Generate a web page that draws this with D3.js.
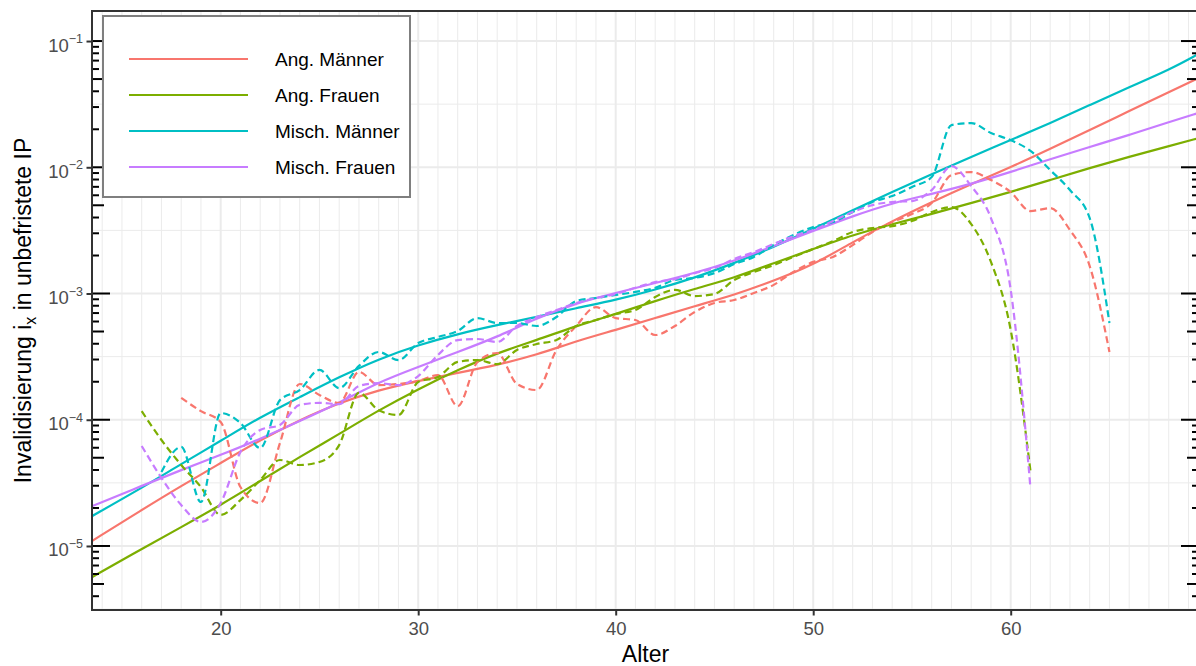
<!DOCTYPE html>
<html>
<head>
<meta charset="utf-8">
<script src="https://cdn.jsdelivr.net/npm/d3@7/dist/d3.min.js"></script>
<style>
body{margin:0;background:#fff;}
svg{display:block;font-family:"Liberation Sans",Arial,Helvetica,sans-serif;}
</style>
</head>
<body>
<div id="chart-area"></div>
<script>

// tick labels
var xTicks = [20, 30, 40, 50, 60];
var yTicks = [1e-5, 1e-4, 1e-3, 1e-2, 1e-1];

var seriesNames = ['Ang. Männer', 'Ang. Frauen', 'Misch. Männer', 'Misch. Frauen'];
var seriesColors = ['#F8766D', '#7CAE00', '#00BFC4', '#C77CFF'];

// fitted curves (solid)
var fitAges = [13.5, 16, 18, 20, 22, 24, 26, 28, 30, 32, 34, 36, 38, 40, 42, 44, 46, 48, 50, 52, 54, 56, 58, 60, 62, 64, 66, 68, 69.5];
var fitAngM = [1.10e-5, 1.93e-5, 2.99e-5, 4.54e-5, 6.91e-5, 9.95e-5, 1.36e-4, 1.72e-4, 2.03e-4, 2.35e-4, 2.72e-4, 3.26e-4, 4.20e-4, 5.14e-4, 6.39e-4, 7.96e-4, 9.73e-4, 1.26e-3, 1.68e-3, 2.56e-3, 3.75e-3, 5.31e-3, 7.37e-3, 1.00e-2, 1.40e-2, 1.97e-2, 2.79e-2, 3.94e-2, 5.09e-2];
var fitAngF = [5.68e-6, 9.47e-6, 1.41e-5, 2.11e-5, 3.27e-5, 5.07e-5, 7.71e-5, 1.19e-4, 1.75e-4, 2.48e-4, 3.38e-4, 4.28e-4, 5.53e-4, 6.88e-4, 8.72e-4, 1.09e-3, 1.33e-3, 1.74e-3, 2.25e-3, 2.91e-3, 3.55e-3, 4.26e-3, 5.21e-3, 6.37e-3, 7.93e-3, 9.87e-3, 1.21e-2, 1.47e-2, 1.70e-2];
var fitMischM = [1.73e-5, 2.88e-5, 4.46e-5, 6.79e-5, 1.05e-4, 1.51e-4, 2.18e-4, 3.03e-4, 3.91e-4, 4.78e-4, 5.63e-4, 6.51e-4, 7.67e-4, 8.88e-4, 1.07e-3, 1.33e-3, 1.74e-3, 2.34e-3, 3.24e-3, 4.59e-3, 6.37e-3, 8.84e-3, 1.21e-2, 1.64e-2, 2.24e-2, 3.11e-2, 4.32e-2, 5.89e-2, 7.89e-2];
var fitMischF = [2.07e-5, 2.99e-5, 4.00e-5, 5.26e-5, 7.04e-5, 9.77e-5, 1.36e-4, 1.99e-4, 2.62e-4, 3.44e-4, 4.52e-4, 6.39e-4, 8.41e-4, 1.01e-3, 1.21e-3, 1.45e-3, 1.81e-3, 2.38e-3, 3.13e-3, 4.11e-3, 5.21e-3, 6.14e-3, 7.37e-3, 9.17e-3, 1.16e-2, 1.45e-2, 1.80e-2, 2.28e-2, 2.69e-2];

// observed rates (dashed), one value per age starting at the given age
var obsStart = [18, 16, 17, 16];
var obsAngM = [1.49e-4, 1.17e-4, 9.6e-5, 2.93e-5, 2.19e-5, 6.54e-5, 1.92e-4, 1.57e-4, 1.36e-4, 2.39e-4,
               1.88e-4, 1.92e-4, 2.03e-4, 2.26e-4, 1.28e-4, 2.87e-4, 3.38e-4, 1.92e-4, 1.72e-4, 3.57e-4,
               5.53e-4, 7.81e-4, 6.39e-4, 6.17e-4, 4.69e-4, 5.53e-4, 7.14e-4, 8.41e-4, 8.88e-4, 1.01e-3,
               1.17e-3, 1.48e-3, 1.78e-3, 1.95e-3, 2.42e-3, 3.07e-3, 3.68e-3, 4.26e-3, 5.21e-3, 8.68e-3,
               9.17e-3, 7.93e-3, 6.37e-3, 4.50e-3, 4.75e-3, 3.18e-3, 1.65e-3, 3.44e-4];
var obsAngF = [1.17e-4, 6.91e-5, 4.38e-5, 2.93e-5, 1.76e-5, 2.31e-5, 3.33e-5, 4.80e-5, 4.38e-5, 4.63e-5,
               6.3e-5, 1.63e-4, 1.19e-4, 1.09e-4, 1.99e-4, 2.18e-4, 2.87e-4, 2.97e-4, 2.76e-4, 3.57e-4,
               3.98e-4, 4.28e-4, 5.53e-4, 6.17e-4, 6.88e-4, 7.40e-4, 9.38e-4, 1.07e-3, 9.55e-4, 9.91e-4,
               1.28e-3, 1.48e-3, 1.68e-3, 1.95e-3, 2.25e-3, 2.60e-3, 3.07e-3, 3.30e-3, 3.42e-3, 3.75e-3,
               4.42e-3, 4.84e-3, 3.55e-3, 1.78e-3, 5.14e-4, 3.93e-5];
var obsMischM = [3.86e-5, 6.09e-5, 2.23e-5, 1.13e-4, 9.42e-5, 5.97e-5, 1.43e-4, 1.72e-4, 2.48e-4, 1.78e-4,
                 2.67e-4, 3.44e-4, 2.97e-4, 4.05e-4, 4.52e-4, 5.05e-4, 6.39e-4, 5.84e-4, 5.84e-4, 5.53e-4,
                 6.51e-4, 8.72e-4, 9.21e-4, 9.73e-4, 1.03e-3, 1.11e-3, 1.28e-3, 1.33e-3, 1.45e-3, 1.71e-3,
                 1.95e-3, 2.42e-3, 2.91e-3, 3.36e-3, 3.68e-3, 4.42e-3, 5.31e-3, 5.92e-3, 6.98e-3, 8.37e-3,
                 2.16e-2, 2.24e-2, 1.87e-2, 1.64e-2, 1.35e-2, 9.51e-3, 6.60e-3, 3.96e-3, 5.84e-4];
var obsMischF = [6.20e-5, 3.46e-5, 2.11e-5, 1.55e-5, 2.19e-5, 5.55e-5, 8.30e-5, 9.09e-5, 1.31e-4, 1.36e-4,
                 1.33e-4, 1.85e-4, 1.95e-4, 1.88e-4, 2.22e-4, 3.26e-4, 4.28e-4, 4.36e-4, 4.13e-4, 5.53e-4,
                 6.51e-4, 7.40e-4, 8.41e-4, 9.21e-4, 9.91e-4, 1.11e-3, 1.23e-3, 1.30e-3, 1.45e-3, 1.59e-3,
                 1.88e-3, 2.13e-3, 2.47e-3, 2.85e-3, 3.18e-3, 3.75e-3, 4.42e-3, 5.02e-3, 5.31e-3, 5.40e-3,
                 6.60e-3, 1.02e-2, 7.10e-3, 3.96e-3, 1.07e-3, 2.88e-5];

var fits = [fitAngM, fitAngF, fitMischM, fitMischF];
var obs = [obsAngM, obsAngF, obsMischM, obsMischF];

var svgWidth = 1196;
var svgHeight = 666;
var margin = {left:92, right:-3, top:11, bottom:56};

var width = svgWidth - margin.left - margin.right;
var height = svgHeight - margin.top - margin.bottom;

var svg = d3.select('#chart-area')
            .append('svg')
            .attr('width', svgWidth)
            .attr('height', svgHeight);

svg.append('defs').append('clipPath')
   .attr('id', 'panel-clip')
   .append('rect')
   .attr('width', width)
   .attr('height', height);

var g = svg.append('g')
           .attr('transform', 'translate(' + margin.left + ',' + margin.top + ')');

var x = d3.scaleLinear()
          .domain([13.484, 69.534])
          .range([0, width]);

var y = d3.scaleLog()
          .domain([3.11e-6, 0.173])
          .range([height, 0]);

// grid
var xMinor = x.ticks(60).filter(function(d){ return d % 10 !== 0; });
var yMinor = yTicks.map(function(d){ return d / Math.sqrt(10); })
                   .filter(function(d){ return y(d) >= 0 && y(d) <= height; });

var grid = g.append('g').attr('stroke', '#EBEBEB').attr('fill', 'none');

grid.selectAll('.vminor').data(xMinor).enter().append('line')
    .attr('x1', d => x(d)).attr('x2', d => x(d))
    .attr('y1', 0).attr('y2', height)
    .attr('stroke-width', 1);

grid.selectAll('.hminor').data(yMinor).enter().append('line')
    .attr('x1', 0).attr('x2', width)
    .attr('y1', d => y(d)).attr('y2', d => y(d))
    .attr('stroke-width', 1);

grid.selectAll('.vmajor').data(xTicks).enter().append('line')
    .attr('x1', d => x(d)).attr('x2', d => x(d))
    .attr('y1', 0).attr('y2', height)
    .attr('stroke-width', 2);

grid.selectAll('.hmajor').data(yTicks).enter().append('line')
    .attr('x1', 0).attr('x2', width)
    .attr('y1', d => y(d)).attr('y2', d => y(d))
    .attr('stroke-width', 2);

// lines
var fitLine = d3.line()
                .x(d => x(d.age))
                .y(d => y(d.value))
                .curve(d3.curveBasis);

var obsLine = d3.line()
                .x(d => x(d.age))
                .y(d => y(d.value))
                .curve(d3.curveMonotoneX);

var plot = g.append('g').attr('clip-path', 'url(#panel-clip)');

fits.forEach(function(vals, i){
    plot.append('path')
        .datum(vals.map(function(v, j){ return {age: fitAges[j], value: v}; }))
        .attr('d', fitLine)
        .attr('fill', 'none')
        .attr('stroke', seriesColors[i])
        .attr('stroke-width', 2.2);
});

obs.forEach(function(vals, i){
    plot.append('path')
        .datum(vals.map(function(v, j){ return {age: obsStart[i] + j, value: v}; }))
        .attr('d', obsLine)
        .attr('fill', 'none')
        .attr('stroke', seriesColors[i])
        .attr('stroke-width', 2.2)
        .attr('stroke-linejoin', 'round')
        .attr('stroke-dasharray', '7,4');
});

// log ticks inside the panel, left and right
var logTicks = y.ticks();
function tickLen(d){
    var m = Math.round(d / Math.pow(10, Math.floor(Math.log10(d) + 1e-9)));
    if (m === 1) return 18;
    if (m === 5) return 12;
    return 7;
}

var lt = g.append('g').attr('stroke', '#000').attr('stroke-width', 2);
lt.selectAll('.ltl').data(logTicks).enter().append('line')
  .attr('x1', 0).attr('x2', d => tickLen(d))
  .attr('y1', d => y(d)).attr('y2', d => y(d));
lt.selectAll('.ltr').data(logTicks).enter().append('line')
  .attr('x1', width).attr('x2', d => width - tickLen(d))
  .attr('y1', d => y(d)).attr('y2', d => y(d));

// panel border
g.append('rect')
 .attr('width', width)
 .attr('height', height)
 .attr('fill', 'none')
 .attr('stroke', '#333333')
 .attr('stroke-width', 2);

// axes
var xAxis = d3.axisBottom(x)
              .tickValues(xTicks)
              .tickSize(5.5)
              .tickPadding(6.4);

var xg = g.append('g')
          .attr('transform', 'translate(0,' + height + ')')
          .call(xAxis);
xg.select('.domain').remove();
xg.selectAll('line').attr('stroke', '#333333').attr('stroke-width', 2);
xg.selectAll('text')
  .attr('font-family', null)
  .attr('font-size', 18.5)
  .attr('fill', '#4D4D4D');

var yAxis = d3.axisLeft(y)
              .tickValues(yTicks)
              .tickSize(5.5)
              .tickPadding(3.5)
              .tickFormat('');

var yg = g.append('g').call(yAxis);
yg.select('.domain').remove();
yg.selectAll('line').attr('stroke', '#333333').attr('stroke-width', 2);
yg.selectAll('.tick text')
  .attr('font-family', null)
  .attr('fill', '#4D4D4D')
  .attr('dy', null)
  .attr('y', 10)
  .each(function(d){
      var t = d3.select(this);
      t.append('tspan').attr('font-size', 18.5).text('10');
      t.append('tspan').attr('font-size', 12.5).attr('dy', -8.5)
       .text('\u2212' + Math.abs(Math.round(Math.log10(d))));
  });

//Xlabel:
svg.append('text')
   .attr('x', margin.left + width / 2)
   .attr('y', 662)
   .attr('text-anchor', 'middle')
   .attr('font-size', 23)
   .attr('fill', '#000')
   .text('Alter');

//Ylabel:
var yl = svg.append('text')
            .attr('transform', 'translate(31,' + (margin.top + height / 2) + ') rotate(-90)')
            .attr('text-anchor', 'middle')
            .attr('font-size', 23)
            .attr('fill', '#000');
yl.append('tspan').text('Invalidisierung i');
yl.append('tspan').attr('font-size', 16).attr('dy', 5).text('x');
yl.append('tspan').attr('dy', -5).text(' in unbefristete IP');

// legend
var legend = svg.append('g').attr('transform', 'translate(103,16)');
legend.append('rect')
      .attr('width', 307)
      .attr('height', 181)
      .attr('fill', '#fff')
      .attr('stroke', '#7F7F7F')
      .attr('stroke-width', 2);

var items = legend.selectAll('.item')
                  .data(seriesNames)
                  .enter()
                  .append('g')
                  .attr('transform', (d, i) => 'translate(0,' + (43 + i * 36) + ')');
items.append('line')
     .attr('x1', 26).attr('x2', 145)
     .attr('y1', 0).attr('y2', 0)
     .attr('stroke', (d, i) => seriesColors[i])
     .attr('stroke-width', 2.2);
items.append('text')
     .attr('x', 172)
     .attr('y', 6.8)
     .attr('font-size', 19)
     .attr('fill', '#000')
     .text(d => d);

</script>
</body>
</html>
